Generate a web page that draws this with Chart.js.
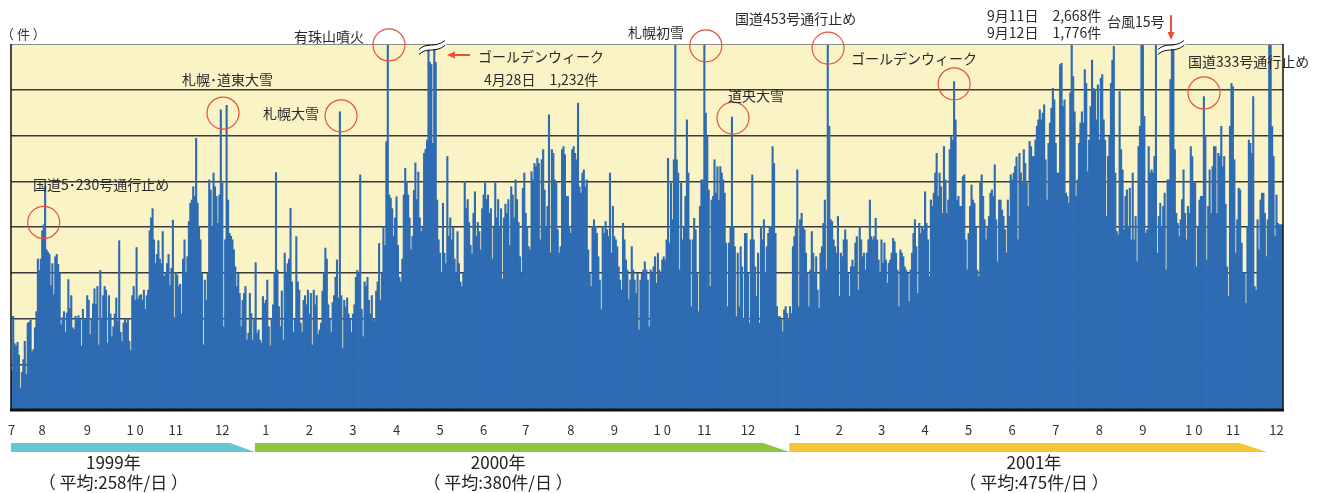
<!DOCTYPE html>
<html lang="ja">
<head>
<meta charset="utf-8">
<title>日別件数</title>
<script src="https://cdn.jsdelivr.net/npm/chart.js@4.4.1/dist/chart.umd.min.js"></script>
<style>
  html, body { margin: 0; padding: 0; background: #fff; }
  #wrap { width: 1326px; height: 493px; position: relative; }
</style>
</head>
<body>
<div id="wrap"><canvas id="chart"></canvas></div>
<script>
// ===== data (件/日) =====
const counts1999 = [
  85, 205, 145, 140, 148, 120, 48, 82, 110, 150, 78, 190, 192, 196, 128, 132, 180, 215, 330, 305,
  330, 392, 405, 490, 350, 345, 340, 272, 320, 252, 335, 340, 318, 300, 186, 202, 215, 170, 212, 285,
  222, 250, 180, 176, 205, 200, 206, 198, 140, 220, 196, 200, 250, 240, 165, 200, 232, 265, 230, 270,
  142, 305, 200, 250, 270, 262, 146, 250, 210, 160, 182, 210, 245, 195, 370, 170, 150, 190, 200, 190,
  200, 150, 130, 250, 270, 240, 355, 242, 250, 252, 240, 262, 220, 250, 262, 392, 420, 440, 372, 320,
  340, 370, 330, 320, 390, 292, 300, 320, 340, 272, 310, 415, 202, 300, 295, 270, 275, 210, 330, 372,
  300, 335, 412, 452, 459, 488, 467, 594, 452, 400, 372, 299, 142, 284, 240, 299, 503, 481, 400, 518,
  488, 467, 408, 470, 656, 496, 182, 372, 666, 459, 386, 380, 372, 350, 313, 270, 299, 255, 182, 240,
  255, 270, 153, 168, 255, 211, 153, 197, 322, 168, 175, 153, 146, 248, 233
];
const counts2000 = [
  240, 284, 182, 140, 200, 230, 300, 519, 306, 226, 182, 260, 153, 343, 300, 320, 330, 441, 280, 170,
  200, 379, 280, 262, 190, 170, 240, 250, 230, 262, 210, 255, 142, 262, 230, 250, 165, 175, 190, 260,
  300, 354, 330, 230, 200, 170, 235, 250, 290, 328, 245, 652, 250, 135, 240, 225, 245, 210, 200, 170,
  210, 230, 290, 305, 300, 514, 220, 160, 280, 270, 290, 240, 210, 250, 200, 195, 260, 280, 364, 240,
  300, 400, 360, 586, 850, 470, 463, 440, 380, 420, 466, 360, 290, 280, 330, 470, 528, 500, 470, 420,
  350, 380, 480, 540, 460, 520, 420, 390, 400, 561, 570, 590, 1232, 760, 755, 583, 900, 760, 459, 372,
  343, 300, 452, 343, 320, 554, 380, 420, 372, 400, 330, 300, 390, 320, 280, 270, 300, 500, 440, 460,
  410, 360, 340, 430, 477, 380, 410, 390, 350, 440, 470, 496, 460, 470, 430, 440, 330, 400, 496, 420,
  460, 400, 440, 286, 420, 450, 430, 460, 360, 488, 470, 420, 503, 460, 410, 335, 299, 485, 518, 430,
  401, 357, 350, 521, 503, 539, 532, 550, 539, 372, 547, 569, 481, 401, 445, 645, 343, 569, 561, 503,
  496, 394, 343, 357, 569, 576, 558, 467, 467, 401, 386, 569, 576, 561, 547, 671, 488, 474, 518, 525,
  488, 503, 350, 299, 270, 401, 416, 401, 386, 335, 284, 219, 401, 386, 412, 394, 379, 518, 343, 445,
  379, 372, 357, 313, 284, 262, 408, 372, 328, 306, 241, 284, 357, 306, 284, 255, 299, 175, 284, 299,
  306, 324, 306, 284, 182, 306, 299, 313, 335, 277, 343, 306, 299, 328, 335, 328, 372, 550, 365, 496,
  416, 547, 850, 547, 518, 306, 496, 372, 401, 467, 634, 518, 372, 226, 372, 419, 394, 299, 215, 445,
  503, 503, 850, 649, 598, 481, 270, 459, 467, 547, 474, 532, 459, 532, 518, 503, 474, 365, 226, 365,
  401, 640, 401, 357, 204, 343, 226, 357, 313, 197, 386, 386, 299, 190, 372, 514, 372, 313, 248, 343,
  190, 401, 372, 416, 299, 357, 386, 401, 401, 576, 539, 386, 226, 204, 204, 197, 171, 219, 226, 211,
  197, 226, 211, 357, 379, 401
];
const counts2001 = [
  525, 226, 416, 430, 401, 394, 343, 299, 226, 306, 390, 343, 299, 335, 262, 222, 343, 357, 408, 459,
  306, 850, 620, 416, 412, 372, 357, 343, 423, 248, 343, 335, 372, 394, 372, 299, 248, 313, 328, 313,
  365, 379, 262, 401, 372, 335, 343, 306, 343, 372, 459, 379, 372, 379, 419, 372, 328, 299, 372, 321,
  365, 328, 277, 321, 328, 343, 375, 368, 343, 306, 226, 350, 343, 335, 313, 306, 299, 237, 306, 343,
  386, 416, 357, 255, 408, 386, 401, 394, 477, 408, 372, 292, 459, 445, 474, 518, 561, 467, 518, 488,
  430, 576, 503, 430, 459, 569, 598, 590, 718, 634, 459, 467, 445, 445, 510, 514, 372, 306, 386, 445,
  492, 459, 452, 401, 306, 292, 496, 514, 467, 416, 372, 401, 423, 474, 481, 467, 536, 416, 324, 459,
  459, 437, 423, 394, 343, 459, 423, 514, 503, 518, 532, 553, 372, 561, 518, 496, 569, 539, 496, 445,
  587, 576, 554, 554, 590, 620, 634, 656, 634, 649, 667, 547, 459, 583, 627, 660, 703, 678, 583, 518,
  518, 755, 758, 663, 678, 474, 467, 452, 693, 850, 729, 652, 467, 503, 583, 627, 652, 627, 744, 714,
  521, 590, 663, 765, 703, 700, 634, 711, 590, 725, 733, 634, 590, 423, 554, 598, 714, 765, 795, 518,
  390, 383, 696, 569, 525, 394, 467, 481, 401, 485, 372, 518, 372, 423, 324, 576, 620, 860, 820, 642,
  386, 394, 576, 518, 525, 518, 554, 830, 343, 423, 452, 401, 445, 474, 306, 503, 503, 722, 2668, 1776,
  569, 430, 408, 379, 416, 460, 525, 430, 372, 445, 430, 576, 554, 496, 496, 313, 401, 459, 467, 467,
  685, 598, 328, 445, 525, 430, 532, 576, 576, 430, 561, 554, 620, 532, 554, 450, 313, 248, 620, 714,
  707, 547, 343, 416, 485, 481, 365, 299, 300, 233, 401, 590, 583, 561, 685, 270, 262, 416, 350, 459,
  474, 474, 430, 335, 416, 860, 880, 620, 554, 379, 470, 408, 405, 405, 405
];

// month ticks on the day axis
const monthTickDays = [0, 21, 52, 85, 113, 145, 175, 205, 235, 265, 295, 325, 354, 385, 415,
  448, 477, 507, 541, 570, 599, 629, 659, 689, 719, 749, 779, 814, 841, 871];
const monthTickText = ['7', '8', '9', '1 0', '11', '12', '1', '2', '3', '4', '5', '6', '7', '8', '9',
  '1 0', '11', '12', '1', '2', '3', '4', '5', '6', '7', '8', '9', '1 0', '11', '12'];

// year bands (day index ranges) and their captions
const yearNames = ['1999年', '2000年', '2001年'];
const yearAverages = ['（ 平均:258件/日 ）', '（ 平均:380件/日 ）', '（ 平均:475件/日 ）'];
const yearStartDay = [0, 168, 536];
const yearTaperDay = [151, 518, 846];
const yearEndDay = [168, 536, 865];
const yearCaptionDay = [70, 335, 704];

// event notes: text anchored at (day, count)
const noteText = ['国道5･230号通行止め', '札幌･道東大雪', '札幌大雪', '有珠山噴火', 'ゴールデンウィーク',
  '4月28日　1,232件', '札幌初雪', '国道453号通行止め', '道央大雪', 'ゴールデンウィーク',
  '9月11日　2,668件', '9月12日　1,776件', '台風15号', '国道333号通行止め'];
const noteDay = [14.7, 117.3, 173, 194.4, 321.1, 325.3, 424.4, 498.1, 493.3, 578, 671.7, 671.7, 754.3, 810.1];
const noteCount = [492, 721, 647, 817, 772, 721, 824, 855, 686, 767, 861, 824, 848, 761];

// circled events
const circleDay = [22, 145.5, 226.8, 259.8, 478, 562.2, 496.7, 649, 821.1];
const circleCount = [410, 649, 643, 798, 796, 791, 638, 713, 693];

// axis breaks for bars over the top
const breakDay = [289.4, 798.4];

const dailyCounts = counts1999.concat(counts2000, counts2001);
const dayLabels = dailyCounts.map((_, i) => {
  const d = new Date(1999, 6, 10 + i);
  return d.getFullYear() + '/' + (d.getMonth() + 1) + '/' + d.getDate();
});

const FONT = '"Noto Sans CJK JP", "Noto Sans", sans-serif';
const RED = '#e8503a';
const BAR = '#2d6bb3';

// ===== drawing helpers =====
function px(chart, day, count) {
  const x0 = chart.scales.x.getPixelForValue(0);
  const step = chart.scales.x.getPixelForValue(1) - x0;
  return [x0 + day * step, chart.scales.y.getPixelForValue(count)];
}

const decor = {
  id: 'decor',
  beforeDraw(chart) {
    const { ctx, chartArea: a } = chart;
    ctx.save();
    ctx.fillStyle = '#faf3c6';
    ctx.fillRect(a.left, a.top, a.right - a.left, a.bottom - a.top);
    ctx.restore();
  },
  afterDatasetsDraw(chart) {
    const { ctx, chartArea: a } = chart;
    ctx.save();
    // frame
    ctx.strokeStyle = '#8c8c8c';
    ctx.lineWidth = 1;
    ctx.beginPath(); ctx.moveTo(a.left, a.top + 0.5); ctx.lineTo(a.right, a.top + 0.5); ctx.stroke();
    ctx.strokeStyle = '#111';
    ctx.lineWidth = 1.5;
    ctx.beginPath(); ctx.moveTo(a.left, a.top); ctx.lineTo(a.left, a.bottom); ctx.stroke();
    ctx.beginPath(); ctx.moveTo(a.right, a.top); ctx.lineTo(a.right, a.bottom); ctx.stroke();
    ctx.lineWidth = 3;
    ctx.beginPath(); ctx.moveTo(a.left - 1, a.bottom); ctx.lineTo(a.right + 1, a.bottom); ctx.stroke();

    // break marks
    breakDay.forEach(d => {
      const [cx] = px(chart, d, 0);
      const cy = a.top + 3;
      const wave = (dy) => {
        ctx.beginPath();
        ctx.moveTo(cx - 13, cy + 5 + dy);
        ctx.bezierCurveTo(cx - 5, cy - 3 + dy, cx + 3, cy + 4 + dy, cx + 13, cy - 4 + dy);
      };
      ctx.strokeStyle = '#ffffff';
      ctx.lineWidth = 4;
      wave(0); ctx.stroke();
      ctx.strokeStyle = '#111';
      ctx.lineWidth = 1;
      wave(-2.5); ctx.stroke();
      wave(2.5); ctx.stroke();
    });

    // circles
    ctx.strokeStyle = RED;
    ctx.lineWidth = 1.2;
    circleDay.forEach((d, i) => {
      const [x, y] = px(chart, d, circleCount[i]);
      ctx.beginPath();
      ctx.arc(x, y, 16, 0, Math.PI * 2);
      ctx.stroke();
    });
    ctx.restore();
  },
  afterDraw(chart) {
    const { ctx, chartArea: a } = chart;
    ctx.save();

    // (件)
    ctx.fillStyle = '#333';
    ctx.font = '13px ' + FONT;
    ctx.textBaseline = 'middle';
    ctx.textAlign = 'left';
    ctx.fillText('（ 件 ）', a.left - 10, a.top - 10);

    // notes
    ctx.font = '14px ' + FONT;
    ctx.fillStyle = '#2a2a2a';
    noteText.forEach((t, i) => {
      const [x, y] = px(chart, noteDay[i], noteCount[i]);
      ctx.fillText(t, x, y);
    });

    // red arrows
    ctx.strokeStyle = RED;
    ctx.fillStyle = RED;
    ctx.lineWidth = 2;
    let [x1, y1] = px(chart, 315.6, 776);
    let [x2] = px(chart, 299.7, 776);
    ctx.beginPath(); ctx.moveTo(x1, y1); ctx.lineTo(x2 + 6, y1); ctx.stroke();
    ctx.beginPath(); ctx.moveTo(x2, y1); ctx.lineTo(x2 + 8, y1 - 3.5); ctx.lineTo(x2 + 8, y1 + 3.5); ctx.closePath(); ctx.fill();
    [x1, y1] = px(chart, 798.4, 863);
    const y3 = px(chart, 798.4, 809)[1];
    ctx.beginPath(); ctx.moveTo(x1, y1); ctx.lineTo(x1, y3 - 6); ctx.stroke();
    ctx.beginPath(); ctx.moveTo(x1, y3); ctx.lineTo(x1 - 3.5, y3 - 8); ctx.lineTo(x1 + 3.5, y3 - 8); ctx.closePath(); ctx.fill();

    // year bands
    const bandTop = a.bottom + 33, bandBot = a.bottom + 42;
    const bandColors = ['#62c8d6', '#8cc63f', '#f6c533'];
    yearNames.forEach((name, i) => {
      const xs = px(chart, yearStartDay[i] - 0.5, 0)[0];
      const xt = px(chart, yearTaperDay[i] - 0.5, 0)[0];
      const xe = px(chart, yearEndDay[i] - 0.5, 0)[0];
      ctx.fillStyle = bandColors[i];
      ctx.beginPath();
      ctx.moveTo(xs, bandTop); ctx.lineTo(xt, bandTop); ctx.lineTo(xe, bandBot); ctx.lineTo(xs, bandBot);
      ctx.closePath(); ctx.fill();

      const xc = px(chart, yearCaptionDay[i], 0)[0];
      ctx.fillStyle = '#222';
      ctx.font = '17px ' + FONT;
      ctx.textAlign = 'center';
      ctx.fillText(name, xc, a.bottom + 53);
      ctx.fillText(yearAverages[i], xc, a.bottom + 73);
    });
    ctx.restore();
  }
};

// ===== chart =====
function initChart() {
  const ctx = document.getElementById('chart');
  return new Chart(ctx, {
    type: 'bar',
    data: {
      labels: dayLabels,
      datasets: [{
        label: '件数',
        data: dailyCounts,
        backgroundColor: BAR,
        borderWidth: 0,
        barPercentage: 1,
        categoryPercentage: 1
      }]
    },
    options: {
      responsive: true,
      maintainAspectRatio: false,
      animation: false,
      devicePixelRatio: 1,
      layout: { padding: { top: 44, right: 43, left: 0, bottom: 0 } },
      plugins: {
        legend: { display: false },
        tooltip: { enabled: false }
      },
      scales: {
        x: {
          grid: { display: false, drawTicks: false },
          border: { display: false },
          afterBuildTicks: s => { s.ticks = monthTickDays.map(v => ({ value: v })); },
          afterFit: s => { s.height = 83; s.paddingLeft = 0; s.paddingRight = 0; },
          ticks: {
            autoSkip: false,
            maxRotation: 0,
            padding: 12,
            color: '#333',
            font: { family: FONT, size: 13 },
            callback: v => monthTickText[monthTickDays.indexOf(v)]
          }
        },
        y: {
          min: 0,
          max: 800,
          afterFit: s => { s.width = 11; },
          ticks: { display: false, stepSize: 100 },
          border: { display: false },
          grid: {
            drawTicks: false,
            lineWidth: 1.5,
            color: c => (c.tick && c.tick.value === 800) ? 'rgba(0,0,0,0)' : '#3a3a3a'
          }
        }
      }
    },
    plugins: [decor]
  });
}

window.onload = initChart;
</script>
</body>
</html>
